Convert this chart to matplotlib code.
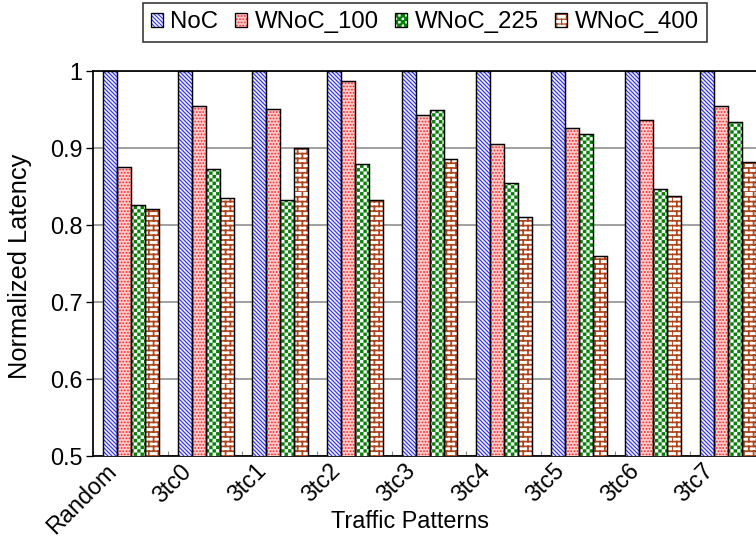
import warnings
warnings.filterwarnings("ignore")
import numpy as np
import matplotlib
matplotlib.use("Agg")
import matplotlib.pyplot as plt
from matplotlib import hatch as mhatch
from matplotlib.path import Path
from matplotlib.patches import Patch
from matplotlib.legend_handler import HandlerTuple

# ---------------- data ----------------
categories = ['Random', '3tc0', '3tc1', '3tc2', '3tc3', '3tc4', '3tc5', '3tc6', '3tc7']
series_names = ['NoC', 'WNoC_100', 'WNoC_225', 'WNoC_400']
noc = [1.0, 1.0, 1.0, 1.0, 1.0, 1.0, 1.0, 1.0, 1.0]
wnoc_100 = [0.875, 0.954, 0.950, 0.987, 0.942, 0.905, 0.925, 0.936, 0.954]
wnoc_225 = [0.825, 0.872, 0.832, 0.879, 0.949, 0.854, 0.918, 0.846, 0.933]
wnoc_400 = [0.821, 0.835, 0.899, 0.832, 0.885, 0.810, 0.759, 0.837, 0.881]
y_ticks = [0.5, 0.6, 0.7, 0.8, 0.9, 1.0]
y_tick_labels = ['0.5', '0.6', '0.7', '0.8', '0.9', '1']
x_title = 'Traffic Patterns'
y_title = 'Normalized Latency'

DPI = 96
HATCH_LW = 0.9  # points (global fallback)
PER_PATCH_LW = hasattr(Patch, 'set_hatch_linewidth')


# ---------------- custom hatches ----------------
class CheckerHatch(mhatch.HatchPatternBase):
    def __init__(self, hatch, density):
        self.n = 28 * hatch.count('c')
        self.cells = [(i, j) for i in range(self.n) for j in range(self.n)
                      if (i + j) % 2 == 0]
        self.num_vertices = 5 * len(self.cells) if self.n else 0

    def set_vertices_and_codes(self, vertices, codes):
        s = 1.0 / self.n
        lw_pt = 0.2 if PER_PATCH_LW else HATCH_LW
        e = (lw_pt * DPI / 72.0) / 2.0 / DPI
        k = 0
        for (i, j) in self.cells:
            x0, y0 = i * s + e, j * s + e
            x1, y1 = (i + 1) * s - e, (j + 1) * s - e
            vertices[k:k + 5] = [(x0, y0), (x1, y0), (x1, y1), (x0, y1), (x0, y0)]
            codes[k:k + 5] = [Path.MOVETO, Path.LINETO, Path.LINETO,
                              Path.LINETO, Path.CLOSEPOLY]
            k += 5


class BrickHatch(mhatch.HatchPatternBase):
    def __init__(self, hatch, density):
        self.rows = 20 * hatch.count('b')
        self.cols = self.rows // 2
        self.num_vertices = (2 * self.rows + 2 * self.rows * self.cols) if self.rows else 0

    def set_vertices_and_codes(self, vertices, codes):
        h = 1.0 / self.rows
        w = 1.0 / self.cols
        k = 0
        for r in range(self.rows):
            y = r * h
            vertices[k] = (0, y)
            vertices[k + 1] = (1, y)
            codes[k] = Path.MOVETO
            codes[k + 1] = Path.LINETO
            k += 2
            off = 0 if r % 2 == 0 else w / 2
            for c in range(self.cols):
                xx = c * w + off
                vertices[k] = (xx, y)
                vertices[k + 1] = (xx, y + h)
                codes[k] = Path.MOVETO
                codes[k + 1] = Path.LINETO
                k += 2


mhatch._hatch_types.append(CheckerHatch)
mhatch._hatch_types.append(BrickHatch)

plt.rcParams['font.family'] = ['Liberation Sans', 'DejaVu Sans']
plt.rcParams['hatch.linewidth'] = HATCH_LW

fig = plt.figure(figsize=(756 / DPI, 545 / DPI), dpi=DPI)
ax = fig.add_axes([93.3 / 756, (545 - 455.7) / 545, 671.1 / 756, 385 / 545])

series = [noc, wnoc_100, wnoc_225, wnoc_400]
styles = [
    dict(face='white', hcolor='#3c3cff', hatch='\\' * 8, hlw=1.0),
    dict(face='#ffcccc', hcolor='#ff2a2a', hatch='.....', hlw=0.9),
    dict(face='white', hcolor='#008000', hatch='c', hlw=0.2),
    dict(face='white', hcolor='#b0441a', hatch='b', hlw=1.3),
]


def set_hlw(p, lw):
    if PER_PATCH_LW:
        p.set_hatch_linewidth(lw)


bw = 0.1875
start = 0.134
x = np.arange(len(categories))
handles = []
for k, (vals, st) in enumerate(zip(series, styles)):
    pos = x + start + k * bw
    bars = ax.bar(pos, vals, width=bw, align='edge', bottom=0, color=st['face'],
                  edgecolor=st['hcolor'], linewidth=0, hatch=st['hatch'], zorder=3)
    for p in bars:
        set_hlw(p, st['hlw'])
    ax.bar(pos, vals, width=bw, align='edge', bottom=0, fill=False,
           edgecolor='black', linewidth=1.1, zorder=4)
    h1 = Patch(facecolor=st['face'], edgecolor=st['hcolor'], linewidth=0, hatch=st['hatch'])
    set_hlw(h1, st['hlw'])
    h2 = Patch(facecolor='none', edgecolor='black', linewidth=1.0)
    handles.append((h1, h2))

ax.set_xlim(0, len(categories))
ax.set_ylim(0.5, 1.0)

ax.set_yticks(y_ticks)
ax.set_yticklabels(y_tick_labels, fontsize=17.5)
ax.tick_params(axis='y', direction='out', length=5, width=1, pad=3)
ax.yaxis.grid(True, color='#8c8c8c', linewidth=1.2, zorder=0)
ax.set_axisbelow(True)

ax.set_xticks(np.arange(len(categories) + 1))
ax.set_xticklabels([])
ax.tick_params(axis='x', which='major', direction='in', length=4, color='#888888')
ax.set_xticks(x + 0.27, minor=True)
ax.set_xticklabels(categories, minor=True, rotation=45, ha='right',
                   rotation_mode='anchor', fontsize=17.5)
ax.tick_params(axis='x', which='minor', length=0, pad=9)
for lab in ax.get_xticklabels(minor=True):
    lab.set_va('center')

for s in ax.spines.values():
    s.set_linewidth(1.3)
    s.set_color('black')

fig.text(410 / 756, (545 - 522) / 545, x_title, ha='center', va='center', fontsize=17.5)
fig.text(20 / 756, (545 - 266) / 545, y_title, ha='center', va='center',
         rotation=90, fontsize=19)

leg = fig.legend(handles, series_names, handler_map={tuple: HandlerTuple(ndivide=1, pad=0)},
                 loc='upper center', bbox_to_anchor=(425 / 756, 1 - 3 / 545), ncol=4,
                 fontsize=18, frameon=True, fancybox=False, edgecolor='black',
                 handlelength=0.5, handleheight=0.5, handletextpad=0.3,
                 columnspacing=0.7, borderpad=0.35, borderaxespad=0)
leg.get_frame().set_linewidth(1.2)

fig.savefig('out.png', dpi=DPI)
